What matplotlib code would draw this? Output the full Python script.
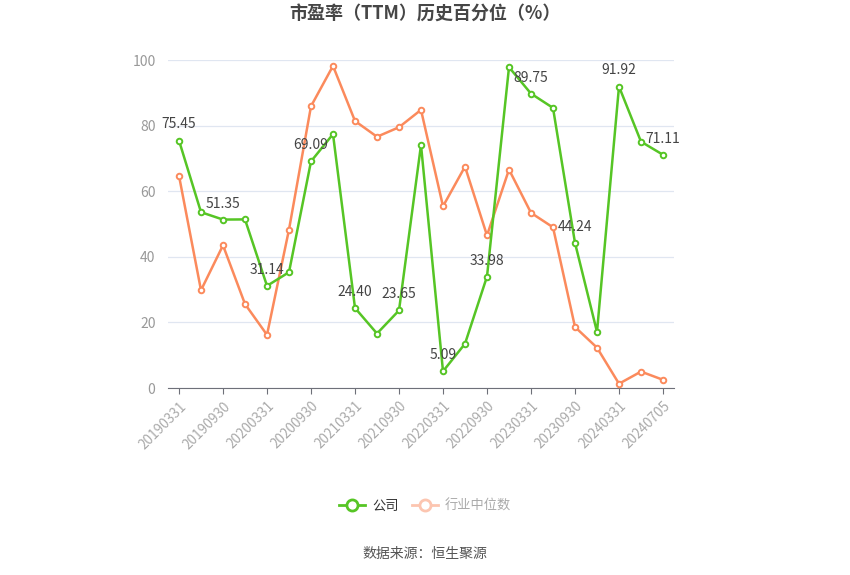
import matplotlib
matplotlib.use("Agg")
import matplotlib.pyplot as plt
from matplotlib.lines import Line2D

plt.rcParams['font.family'] = ['Noto Sans CJK SC', 'DejaVu Sans']

dates = ['20190331', '20190630', '20190930', '20191231', '20200331', '20200630',
         '20200930', '20201231', '20210331', '20210630', '20210930', '20211231',
         '20220331', '20220630', '20220930', '20221231', '20230331', '20230630',
         '20230930', '20231231', '20240331', '20240630', '20240705']
tick_dates = ['20190331', '20190930', '20200331', '20200930', '20210331', '20210930',
              '20220331', '20220930', '20230331', '20230930', '20240331', '20240705']

company = [75.45, 53.6, 51.35, 51.4, 31.14, 35.3, 69.09, 77.4, 24.40, 16.6, 23.65, 74.1,
           5.09, 13.5, 33.98, 97.8, 89.75, 85.4, 44.24, 17.1, 91.92, 75.1, 71.11]
industry = [64.7, 29.8, 43.5, 25.6, 16.2, 48.3, 85.9, 98.2, 81.4, 76.6, 79.5, 84.8,
            55.4, 67.5, 46.5, 66.6, 53.4, 49.0, 18.6, 12.3, 1.3, 5.0, 2.5]

GREEN = '#56c525'
ORANGE = '#fb8a5c'

fig = plt.figure(figsize=(8.5, 5.75), dpi=100)
ax = fig.add_axes([168 / 850, 1 - 388 / 575, 506 / 850, 328 / 575])

x = list(range(len(dates)))
ax.plot(x, industry, color=ORANGE, linewidth=1.8, marker='o', markersize=4,
        markerfacecolor='white', markeredgewidth=1.4, zorder=3)
ax.plot(x, company, color=GREEN, linewidth=1.8, marker='o', markersize=4,
        markerfacecolor='white', markeredgewidth=1.4, zorder=4)

# 隔一个点标注公司数值
for i in range(0, len(dates), 2):
    ax.annotate(f'{company[i]:.2f}', (x[i], company[i]), xytext=(0, 6.5),
                textcoords='offset points', ha='center', va='bottom',
                fontsize=10, color='#444444', zorder=5)

ax.set_xlim(-0.5, len(dates) - 0.5)
ax.set_ylim(0, 100)
ax.set_yticks([0, 20, 40, 60, 80, 100])
ax.grid(axis='y', color='#e0e6f1', linewidth=0.9)
ax.set_axisbelow(True)
for s in ['top', 'right', 'left']:
    ax.spines[s].set_visible(False)
ax.spines['bottom'].set_color('#6e7079')
ax.tick_params(axis='y', length=0, labelsize=10, labelcolor='#999999', pad=9)

tick_pos = [dates.index(d) for d in tick_dates]
ax.set_xticks(tick_pos)
ax.set_xticklabels(tick_dates, rotation=45, ha='right', rotation_mode='anchor')
ax.tick_params(axis='x', length=4, color='#6e7079', labelsize=9.8,
               labelcolor='#aaaaaa', pad=4)

fig.text(0.5, 1 - 14 / 575, '市盈率（TTM）历史百分位（%）', ha='center', va='center',
         fontsize=13, fontweight='bold', color='#464646')

handles = [
    Line2D([], [], color=GREEN, linewidth=2, marker='o', markersize=8,
           markerfacecolor='white', markeredgewidth=2),
    Line2D([], [], color='#fcc5b0', linewidth=2, marker='o', markersize=8,
           markerfacecolor='white', markeredgewidth=2),
]
leg = fig.legend(handles, ['公司', '行业中位数'], loc='center', ncol=2,
                 bbox_to_anchor=(0.5, 1 - 506 / 575), frameon=False, fontsize=9.5,
                 handlelength=2.0, columnspacing=1.0, handletextpad=0.5)
leg.get_texts()[0].set_color('#333333')
leg.get_texts()[1].set_color('#aaaaaa')

fig.text(0.5, 1 - 554 / 575, '数据来源：恒生聚源', ha='center', va='center',
         fontsize=10, color='#555555')

fig.savefig('out.png', dpi=100)
